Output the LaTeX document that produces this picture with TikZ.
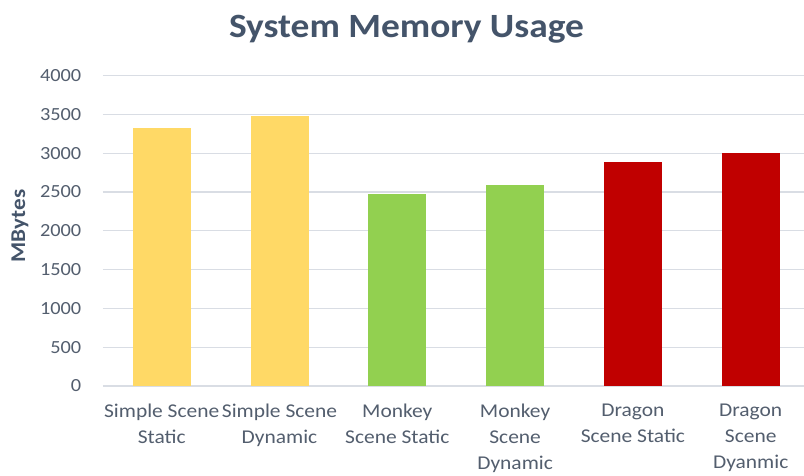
\documentclass[tikz,border=0pt]{standalone}
\usepackage{fontspec}
\setmainfont{Carlito}[FakeStretch=1.1]
\definecolor{titlegray}{HTML}{44546A}
\definecolor{ticktext}{HTML}{535E6E}
\definecolor{gridgray}{HTML}{D9DDE4}
\definecolor{barYellow}{HTML}{FFD966}
\definecolor{barGreen}{HTML}{92D050}
\definecolor{barRed}{HTML}{C00000}
\tikzset{
  ticklabel/.style={anchor=east, text=ticktext, inner sep=0pt,
    font=\fontsize{18.5}{22}\selectfont},
  catlabel/.style={anchor=north, text=ticktext, align=center, inner sep=0pt,
    font=\fontsize{19.5}{26}\selectfont},
  gridline/.style={draw=gridgray, line width=1.2pt},
}
\begin{document}
\begin{tikzpicture}[x=1pt,y=1pt]
        \useasboundingbox (0,0) rectangle (804,475);
        \fill[white] (0,0) rectangle (804,475);

        \node[anchor=base, text=titlegray, font=\bfseries\fontsize{34}{40}\selectfont] (title) at (406.5,437.7) {System Memory Usage};
        \node[rotate=90, text=titlegray, font=\bfseries\fontsize{21}{24}\selectfont] (ytitle) at (20,249) {MBytes};

        % grid and values
        \foreach \v in {0,500,...,4000}{
                \coordinate (gl\v) at (102.8,89+\v*0.07758);
                \coordinate (gr\v) at (804,89+\v*0.07758);
                \draw[gridline] (gl\v) -- (gr\v);
                \node[ticklabel] (tick\v) at (81.5,89+\v*0.07758) {\v};
        }

        % bars
        \foreach \val/\col/\name [count=\i] in {3321/barYellow/{Simple Scene\\Static},
                3479/barYellow/{Simple Scene\\Dynamic}, 2474/barGreen/{Monkey\\Scene Static},
                2590/barGreen/{Monkey\\Scene\\Dynamic}, 2887/barRed/{Dragon\\Scene Static},
                3003/barRed/{Dragon\\Scene\\Dyanmic}}{
                \fill[\col] (102.8+\i*117.8-58.9-29,89) rectangle (102.8+\i*117.8-58.9+29,89+\val*0.07758);
                \node[catlabel] (cat\i) at (102.8+\i*117.8-58.9,71) {\name};
        }
\end{tikzpicture}
\end{document}
